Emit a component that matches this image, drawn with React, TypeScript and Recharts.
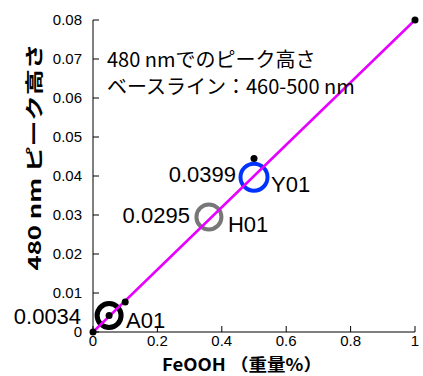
import {
  ComposedChart,
  Scatter,
  XAxis,
  YAxis,
} from "recharts";

// measured points (black dots)
const pointX = [0, 0.05, 0.1, 0.5, 1];
const pointY = [0, 0.0042, 0.0077, 0.0445, 0.08];

// fitted line end points
const fitX = [0, 1];
const fitY = [0, 0.08];

// samples (ring markers)
const sampleNames = ["A01", "H01", "Y01"];
const sampleX = [0.05, 0.36, 0.5];
const sampleY = [0.0042, 0.0295, 0.0397];
const sampleValueLabels = ["0.0034", "0.0295", "0.0399"];

const xTicks = [0, 0.2, 0.4, 0.6, 0.8, 1];
const yTicks = [0, 0.01, 0.02, 0.03, 0.04, 0.05, 0.06, 0.07, 0.08];

const points = pointX.map((x, i) => ({ x, y: pointY[i] }));
const fitLine = fitX.map((x, i) => ({ x, y: fitY[i] }));
const samples = sampleNames.map((name, i) => ({
  name,
  x: sampleX[i],
  y: sampleY[i],
  value: sampleValueLabels[i],
}));

const FONT = "'Liberation Sans', Arial, sans-serif";
const JP_FONT = "'Noto Sans CJK JP', 'Liberation Sans', sans-serif";

// per-sample ring style and label offsets
const ringStyle: Record<string, { color: string; r: number; w: number; vx: number; vy: number; nx: number; ny: number }> = {
  A01: { color: "#000000", r: 12, w: 5, vx: -28, vy: 8, nx: 17, ny: 12 },
  H01: { color: "#777777", r: 12.5, w: 4, vx: -19, vy: 6, nx: 19, ny: 15 },
  Y01: { color: "#0033ff", r: 13.5, w: 4, vx: -18, vy: 5, nx: 17, ny: 15 },
};

function RingShape(props: any) {
  const { cx, cy, payload } = props;
  const s = ringStyle[payload.name];
  return (
    <g>
      <circle cx={cx} cy={cy} r={s.r} fill="none" stroke={s.color} strokeWidth={s.w} />
      <text
        x={cx + s.vx}
        y={cy + s.vy}
        textAnchor="end"
        fontFamily={FONT}
        fontSize={22}
        fill="#000"
      >
        {payload.value}
      </text>
      <text x={cx + s.nx} y={cy + s.ny} fontFamily={FONT} fontSize={22} fill="#000">
        {payload.name}
      </text>
    </g>
  );
}

function DotShape(props: any) {
  const { cx, cy } = props;
  return <circle cx={cx} cy={cy} r={3.5} fill="#000" />;
}

function NoShape() {
  return <g />;
}

export default function App() {
  const tickStyle = { fill: "#000", fontSize: 15, fontFamily: FONT };
  return (
    <div style={{ position: "fixed", left: 0, top: 0, width: 423, height: 376, background: "#fff" }}>
      <ComposedChart
        width={423}
        height={376}
        margin={{ top: 20, right: 8, left: 33, bottom: 24 }}
      >
        <XAxis
          dataKey="x"
          type="number"
          domain={[0, 1]}
          ticks={xTicks}
          tick={tickStyle}
          tickSize={-6}
          tickMargin={9}
          height={20}
          stroke="#000"
        />
        <XAxis
          xAxisId="top"
          orientation="top"
          type="number"
          domain={[0, 1]}
          ticks={xTicks}
          tick={false}
          tickSize={-6}
          height={0}
          stroke="#000"
        />
        <YAxis
          dataKey="y"
          type="number"
          domain={[0, 0.08]}
          ticks={yTicks}
          tick={tickStyle}
          tickSize={-6}
          tickMargin={17}
          width={60}
          stroke="#000"
        />
        <YAxis
          yAxisId="right"
          orientation="right"
          type="number"
          domain={[0, 0.08]}
          ticks={yTicks}
          tick={false}
          tickSize={-6}
          width={0}
          stroke="#000"
        />
        <Scatter
          data={samples}
          dataKey="y"
          shape={<RingShape />}
          isAnimationActive={false}
        />
        <Scatter
          data={fitLine}
          dataKey="y"
          line={{ stroke: "#e600ff", strokeWidth: 2.5 }}
          shape={<NoShape />}
          isAnimationActive={false}
        />
        <Scatter
          data={points}
          dataKey="y"
          shape={<DotShape />}
          isAnimationActive={false}
        />
      </ComposedChart>
      <svg
        width={423}
        height={376}
        style={{ position: "absolute", left: 0, top: 0, pointerEvents: "none" }}
      >
        <text x={107} y={67} fontFamily={JP_FONT} fontSize={20} fill="#000">
          480 nmでのピーク高さ
        </text>
        <text x={107} y={94} fontFamily={JP_FONT} fontSize={20} fill="#000">
          ベースライン：460-500 nm
        </text>
        <text
          x={242}
          y={371}
          textAnchor="middle"
          fontFamily={JP_FONT}
          fontSize={17}
          fontWeight="bold"
          textLength={160}
          lengthAdjust="spacingAndGlyphs"
          fill="#000"
        >
          FeOOH （重量%）
        </text>
        <text
          transform="translate(41, 157) rotate(-90)"
          textAnchor="middle"
          fontFamily={JP_FONT}
          fontSize={18}
          fontWeight="bold"
          textLength={227}
          lengthAdjust="spacingAndGlyphs"
          fill="#000"
        >
          480 nm ピーク高さ
        </text>
      </svg>
    </div>
  );
}
